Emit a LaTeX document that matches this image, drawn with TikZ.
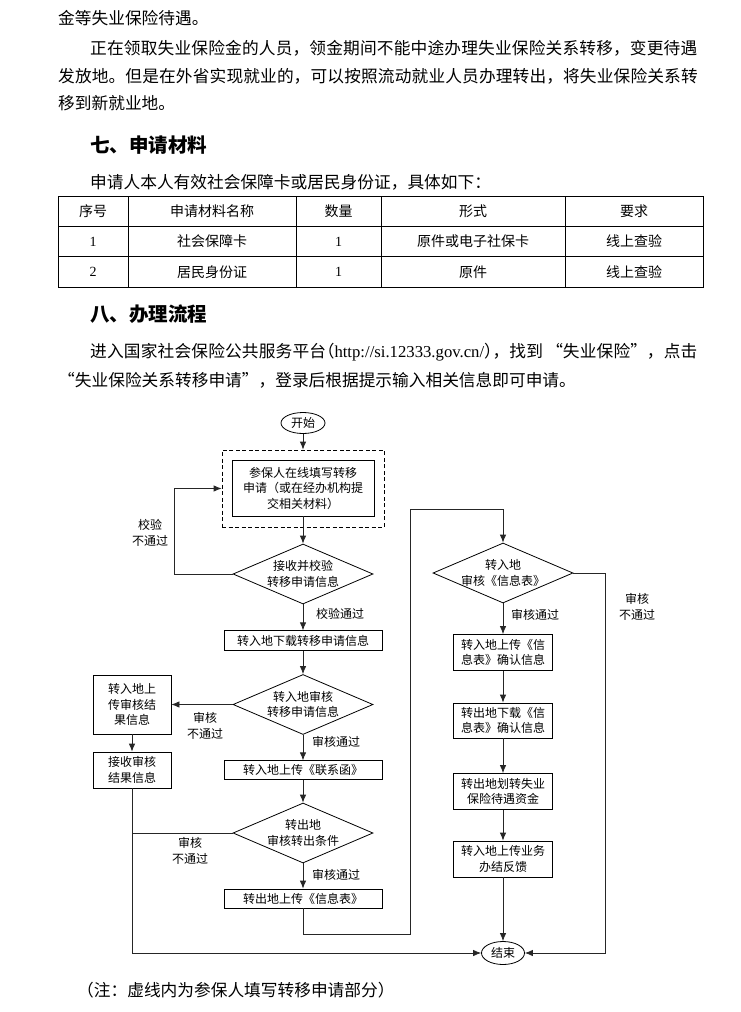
\documentclass[tikz,border=0pt]{standalone}
\usepackage{fontspec}
\setmainfont{Noto Sans CJK SC}
\newfontfamily\lat{Liberation Serif}
\usetikzlibrary{shapes.geometric,arrows.meta}
\XeTeXlinebreaklocale "zh"
\XeTeXlinebreakskip=0pt plus 2pt
\newcommand\myfs[2]{\fontsize{#1}{#2}\selectfont}
\newcommand\hw[1]{{\addfontfeature{RawFeature=+halt}#1}}
\newcommand\jl[1]{\parfillskip=0pt\relax #1\par}
\begin{document}
\begin{tikzpicture}[x=1pt,y=-1pt,
  txt/.style={anchor=west,inner sep=0pt,font=\myfs{16.7pt}{20pt}},
  jtxt/.style={anchor=west,inner sep=0pt,text width=#1,font=\myfs{16.7pt}{20pt}},
  head/.style={anchor=west,inner sep=0pt,font=\myfs{19.5pt}{22pt}\bfseries},
  cell/.style={inner sep=0pt,font=\myfs{14pt}{16pt}},
  box/.style={draw,line width=0.8pt,inner sep=0pt,align=center,font=\myfs{12pt}{15.5pt}},
  dia/.style={draw,diamond,aspect=2.333,inner sep=-5pt,minimum width=140pt,minimum height=60pt,line width=0.8pt,align=center,font=\myfs{12pt}{15.5pt}},
  term/.style={draw,ellipse,inner sep=0pt,line width=0.8pt,font=\myfs{12pt}{14pt}},
  conn/.style={line width=0.8pt,draw=black!85},
  arr/.style={conn,-{Latex[length=8pt,width=6.5pt]}},
  lab/.style={inner sep=0pt,align=center,font=\myfs{12pt}{16pt}}]
\useasboundingbox[fill=white] (0,0) rectangle (740,1012);

% ---- body text ----
\node[txt] (l1) at (58,18) {金等失业保险待遇。};
\node[jtxt=610pt] (l2) at (90,48) {\jl{正在领取失业保险金的人员，领金期间不能中途办理失业保险关系转移，变更待遇}};
\node[jtxt=642pt] (l3) at (58,76) {\jl{发放地。但是在外省实现就业的，可以按照流动就业人员办理转出，将失业保险关系转}};
\node[txt] (l4) at (58,103) {移到新就业地。};

\node[head] (h7) at (90,145) {七、申请材料};
\node[txt] (p7) at (90,182) {申请人本人有效社会保障卡或居民身份证，具体如下：};

% ---- table ----
\draw[line width=0.9pt] (58,196) rectangle (703,287);
\draw[line width=0.7pt] (58,226) -- (703,226) (58,256.5) -- (703,256.5);
\foreach \x in {128,296,381,565} \draw[line width=0.7pt] (\x,196) -- (\x,287);
\node[cell] (t11) at (93,211) {序号};
\node[cell] (t12) at (212,211) {申请材料名称};
\node[cell] (t13) at (338.5,211) {数量};
\node[cell] (t14) at (473,211) {形式};
\node[cell] (t15) at (634,211) {要求};
\node[cell] (t21) at (93,241.5) {\lat 1};
\node[cell] (t22) at (212,241.5) {社会保障卡};
\node[cell] (t23) at (338.5,241.5) {\lat 1};
\node[cell] (t24) at (473,241.5) {原件或电子社保卡};
\node[cell] (t25) at (634,241.5) {线上查验};
\node[cell] (t31) at (93,272) {\lat 2};
\node[cell] (t32) at (212,272) {居民身份证};
\node[cell] (t33) at (338.5,272) {\lat 1};
\node[cell] (t34) at (473,272) {原件};
\node[cell] (t35) at (634,272) {线上查验};

\node[head] (h8) at (90,314) {八、办理流程};
\node[jtxt=610pt] (p8a) at (90,352) {\jl{进入国家社会保险公共服务平台\hw{（}\mbox{\lat http://si.12333.gov.cn/}\hw{）}，找到\kern0.2em“失业保险”，点击}};
\node[txt] (p8b) at (58,380) {“失业保险关系转移申请”，登录后根据提示输入相关信息即可申请。};

% ---- flowchart ----
\node[term,minimum width=44pt,minimum height=21pt] (start) at (303,423) {开始};
\node[draw,dashed,dash pattern=on 4pt off 2.5pt,line width=0.8pt,minimum width=162pt,minimum height=77pt,inner sep=0pt] (dash) at (303,488.5) {};
\node[box,minimum width=142pt,minimum height=56pt] (apply) at (303,488) {参保人在线填写转移\\申请（或在经办机构提\\交相关材料）};
\node[dia] (d1) at (303,574) {接收并校验\\转移申请信息};
\node[box,minimum width=158pt,minimum height=19.5pt] (b2) at (303,640.5) {转入地下载转移申请信息};
\node[dia] (d2) at (303,704.5) {转入地审核\\转移申请信息};
\node[box,minimum width=78pt,minimum height=59pt] (L1) at (132,704.5) {转入地上\\传审核结\\果信息};
\node[box,minimum width=78pt,minimum height=36pt] (L2) at (132,770) {接收审核\\结果信息};
\node[box,minimum width=158pt,minimum height=18.5pt] (b3) at (303,770) {转入地上传《联系函》};
\node[dia] (d3) at (303,833) {转出地\\审核转出条件};
\node[box,minimum width=158pt,minimum height=19pt] (b4) at (303,898.5) {转出地上传《信息表》};
\node[dia] (d4) at (503,573) {转入地\\审核《信息表》};
\node[box,minimum width=99pt,minimum height=36pt] (R1) at (503,652.5) {转入地上传《信\\息表》确认信息};
\node[box,minimum width=99pt,minimum height=35pt] (R2) at (503,720.5) {转出地下载《信\\息表》确认信息};
\node[box,minimum width=99pt,minimum height=36pt] (R3) at (503,791.5) {转出地划转失业\\保险待遇资金};
\node[box,minimum width=99pt,minimum height=36pt] (R4) at (503,859) {转入地上传业务\\办结反馈};
\node[term,minimum width=43pt,minimum height=23pt] (end) at (503,953) {结束};

\coordinate (c1) at (174,574);
\coordinate (c2) at (410,934);
\coordinate (c3) at (410,509);
\coordinate (c4) at (605,573);

\draw[arr] (start.south) -- (dash.north);
\draw[arr] (apply.south) -- (d1.north);
\draw[arr] (d1.west) -- (c1) |- (dash.west);
\draw[arr] (d1.south) -- (b2.north);
\draw[arr] (b2.south) -- (d2.north);
\draw[arr] (d2.west) -- (L1.east);
\draw[arr] (L1.south) -- (L2.north);
\draw[arr] (L2.south) |- (end.west);
\draw[arr] (d2.south) -- (b3.north);
\draw[arr] (b3.south) -- (d3.north);
\draw[conn] (d3.west) -- (d3.west -| L2.south);
\draw[arr] (d3.south) -- (b4.north);
\draw[arr] (b4.south) |- (c2) -- (c3) -| (d4.north);
\draw[arr] (d4.east) -- (c4) |- (end.east);
\draw[arr] (d4.south) -- (R1.north);
\draw[arr] (R1.south) -- (R2.north);
\draw[arr] (R2.south) -- (R3.north);
\draw[arr] (R3.south) -- (R4.north);
\draw[arr] (R4.south) -- (end.north);

\node[lab] (n1) at (150,533) {校验\\不通过};
\node[lab] (n2) at (340,614) {校验通过};
\node[lab] (n3) at (205,726) {审核\\不通过};
\node[lab] (n4) at (336,742) {审核通过};
\node[lab] (n5) at (190,851) {审核\\不通过};
\node[lab] (n6) at (336,875) {审核通过};
\node[lab] (n7) at (535,615) {审核通过};
\node[lab] (n8) at (637,607) {审核\\不通过};

\node[txt] (note) at (77,990) {（注：虚线内为参保人填写转移申请部分）};
\end{tikzpicture}
\end{document}
